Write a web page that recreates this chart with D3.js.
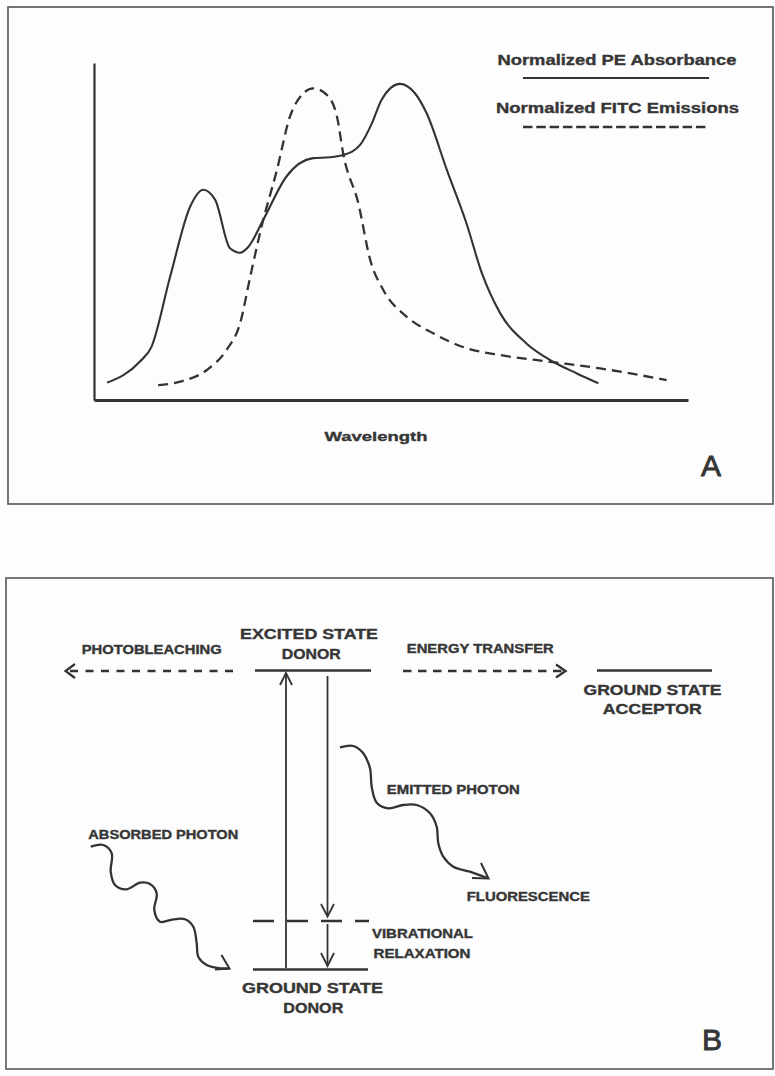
<!DOCTYPE html>
<html>
<head>
<meta charset="utf-8">
<script src="https://cdn.jsdelivr.net/npm/d3@7/dist/d3.min.js"></script>
<style>
  html, body { margin: 0; padding: 0; background: #fdfdfd; }
  svg { display: block; }
  text { font-family: "Liberation Sans", Arial, Helvetica, sans-serif; font-weight: bold; fill: #363636; }
</style>
</head>
<body>
<svg id="chart" width="775" height="1076"></svg>
<script>
// ---------- Panel A data (normalized spectra, x in % of wavelength range) ----------
const peWavelength = [2.2, 7.7, 9.7, 12.8, 16.2, 18.4, 20.4, 22.9, 24.6, 26.0, 28.5, 32.4, 36.9, 39.7, 42.0, 44.8, 46.8, 48.4, 51.5, 54.0, 56.0, 59.4, 62.7, 65.3, 68.4, 72.8, 77.3, 81.3, 84.9];
const peAbsorbance = [0.055, 0.121, 0.169, 0.389, 0.612, 0.665, 0.633, 0.480, 0.466, 0.485, 0.570, 0.707, 0.765, 0.768, 0.775, 0.807, 0.876, 0.949, 1.000, 0.971, 0.907, 0.728, 0.559, 0.401, 0.274, 0.179, 0.121, 0.084, 0.053];
const fitcWavelength = [10.8, 14.5, 19.0, 22.3, 24.6, 26.3, 28.2, 30.8, 33.0, 35.0, 36.9, 39.2, 40.9, 42.0, 44.5, 46.5, 48.7, 52.6, 57.1, 62.7, 68.4, 76.8, 85.2, 96.4];
const fitcEmission = [0.047, 0.058, 0.095, 0.158, 0.243, 0.390, 0.548, 0.728, 0.897, 0.965, 0.986, 0.965, 0.897, 0.775, 0.622, 0.443, 0.348, 0.264, 0.211, 0.164, 0.142, 0.121, 0.100, 0.063];
const legendLabels = ["Normalized PE Absorbance", "Normalized FITC Emissions"];
const xAxisTitle = "Wavelength";
const panelLetters = ["A", "B"];

// ---------- Panel B labels ----------
const stateLabels = ["EXCITED STATE", "DONOR", "GROUND STATE", "ACCEPTOR", "GROUND STATE", "DONOR"];
const processLabels = ["PHOTOBLEACHING", "ENERGY TRANSFER", "EMITTED PHOTON", "ABSORBED PHOTON", "FLUORESCENCE", "VIBRATIONAL", "RELAXATION"];

const svg = d3.select("#chart");
const INK = "#333";

function label(t, cx, cy, size, width) {
  const el = svg.append("text")
    .attr("x", cx - width / 2)
    .attr("y", cy + size * 0.36)
    .attr("font-size", size)
    .attr("stroke", "#363636").attr("stroke-width", 0.35)
    .text(t);
  if (width) el.attr("textLength", width).attr("lengthAdjust", "spacingAndGlyphs");
  return el;
}

// ---------- Panel frames ----------
svg.append("rect").attr("x", 8).attr("y", 7).attr("width", 765).attr("height", 497)
  .attr("fill", "none").attr("stroke", "#555").attr("stroke-width", 1.6);
svg.append("rect").attr("x", 6).attr("y", 578).attr("width", 767).attr("height", 491)
  .attr("fill", "none").attr("stroke", "#555").attr("stroke-width", 1.6);

// ---------- Panel A ----------
const x = d3.scaleLinear().domain([0, 100]).range([94, 688]);
const y = d3.scaleLinear().domain([0, 1.066]).range([400, 63]);

const gA = svg.append("g");
const yAxis = gA.append("g").attr("transform", `translate(${x(0)},0)`)
  .call(d3.axisLeft(y).tickValues([]).tickSizeOuter(0));
const xAxis = gA.append("g").attr("transform", `translate(0,${y(0)})`)
  .call(d3.axisBottom(x).tickValues([]).tickSizeOuter(0));
yAxis.select(".domain").attr("stroke", INK).attr("stroke-width", 2.2);
xAxis.select(".domain").attr("stroke", INK).attr("stroke-width", 2.8);

const line = d3.line().curve(d3.curveMonotoneX).x(d => x(d[0])).y(d => y(d[1]));
gA.append("path").datum(d3.zip(peWavelength, peAbsorbance)).attr("d", line)
  .attr("fill", "none").attr("stroke", INK).attr("stroke-width", 2.1);
gA.append("path").datum(d3.zip(fitcWavelength, fitcEmission)).attr("d", line)
  .attr("fill", "none").attr("stroke", INK).attr("stroke-width", 2.3)
  .attr("stroke-dasharray", "10,6");

// Legend
label(legendLabels[0], 617, 60, 14.5, 239);
svg.append("line").attr("x1", 523).attr("x2", 709).attr("y1", 78).attr("y2", 78)
  .attr("stroke", INK).attr("stroke-width", 2.2);
label(legendLabels[1], 617.5, 108, 14.5, 243);
svg.append("line").attr("x1", 523).attr("x2", 709).attr("y1", 127).attr("y2", 127)
  .attr("stroke", INK).attr("stroke-width", 2.6).attr("stroke-dasharray", "9.5,3.8");

label(xAxisTitle, 376, 436, 13.5, 103);
svg.append("text").attr("x", 711).attr("y", 476).attr("text-anchor", "middle")
  .attr("font-size", 30).style("font-weight", "normal")
  .attr("stroke", "#363636").attr("stroke-width", 0.9).text(panelLetters[0]);

// ---------- Panel B ----------
const gB = svg.append("g").attr("stroke", INK).attr("fill", "none");
function seg(x1, y1, x2, y2, w, dash) {
  const l = gB.append("line").attr("x1", x1).attr("y1", y1).attr("x2", x2).attr("y2", y2)
    .attr("stroke-width", w || 2);
  if (dash) l.attr("stroke-dasharray", dash);
  return l;
}
function head(pts, w) {
  gB.append("path").attr("d", d3.line()(pts)).attr("stroke-width", w || 2)
    .attr("stroke-linejoin", "miter");
}

// energy levels
seg(255, 670.5, 371, 670.5, 2.6);
seg(597, 670.5, 712, 670.5, 2.6);
seg(253, 969.5, 368, 969.5, 2.6);
seg(253, 921, 369, 921, 2.4, "21,13");

// photobleaching (left dashed arrow)
seg(233, 671, 70, 671, 2.6, "8,7.5");
head([[75, 664], [65.5, 671], [75, 678]], 2.2);
// energy transfer (right dashed arrow)
seg(403, 671, 562, 671, 2.6, "8.5,6.5");
head([[556, 664.5], [565.5, 671], [556, 677.5]], 2.4);

// absorption (up arrow)
seg(286, 968, 286, 673, 1.8);
head([[280, 685], [286, 673], [292, 685]], 1.8);
// fluorescence decay (down arrow to vibrational level)
seg(327.5, 676, 327.5, 916, 1.8);
head([[321, 904], [327.5, 916.5], [334, 904]], 1.8);
// vibrational relaxation
seg(327.5, 924, 327.5, 966, 1.8);
head([[321, 953], [327.5, 966], [334, 953]], 1.8);

// absorbed photon wave
const absorbedWave = [[90.7, 846.7], [103.3, 845], [111.7, 853.3], [110.7, 871.7], [115, 885], [126.7, 889.3], [140, 882.7], [150, 884], [156.7, 893.3], [154.3, 910], [160, 921.7], [173.3, 919.3], [185, 919.3], [193.3, 926.7], [196.7, 943.3], [198.3, 956.7], [206.7, 965], [220, 968.3], [229, 968.3]];
gB.append("path").attr("d", d3.line().curve(d3.curveCatmullRom)(absorbedWave)).attr("stroke-width", 2.3);
head([[221.5, 955], [229.5, 968.5], [215, 969.5]], 2);

// emitted photon wave
const emittedWave = [[340, 747.3], [353.3, 746], [363.3, 753.3], [370, 768.3], [371.7, 786.7], [376.7, 802.7], [388.3, 808.3], [403.3, 805], [416.7, 805], [430, 813.3], [436.7, 826.7], [438.3, 843.3], [443.3, 856.7], [453.3, 866.7], [470, 871.7], [488, 878.3]];
gB.append("path").attr("d", d3.line().curve(d3.curveCatmullRom)(emittedWave)).attr("stroke-width", 2.3);
head([[481, 863], [488.5, 878.5], [472, 878]], 2);

// labels
label(stateLabels[0], 309, 633.3, 14.5, 138);
label(stateLabels[1], 311.2, 653.3, 14.5, 59);
label(stateLabels[2], 652.5, 689.3, 14.5, 138);
label(stateLabels[3], 652.3, 708.3, 14.5, 99);
label(stateLabels[4], 312.5, 987.7, 14.5, 141);
label(stateLabels[5], 313.3, 1007.3, 14.5, 60);

label(processLabels[0], 151.7, 649.3, 12, 140);
label(processLabels[1], 480.3, 648.3, 12, 147);
label(processLabels[2], 453.3, 790, 12, 133);
label(processLabels[3], 163.3, 835, 12, 150);
label(processLabels[4], 528.3, 896.7, 12, 123);
label(processLabels[5], 422.5, 934, 12, 101);
label(processLabels[6], 422, 954, 12, 97);

svg.append("text").attr("x", 712).attr("y", 1050).attr("text-anchor", "middle")
  .attr("font-size", 30).style("font-weight", "normal")
  .attr("stroke", "#363636").attr("stroke-width", 0.9).text(panelLetters[1]);
</script>
</body>
</html>
